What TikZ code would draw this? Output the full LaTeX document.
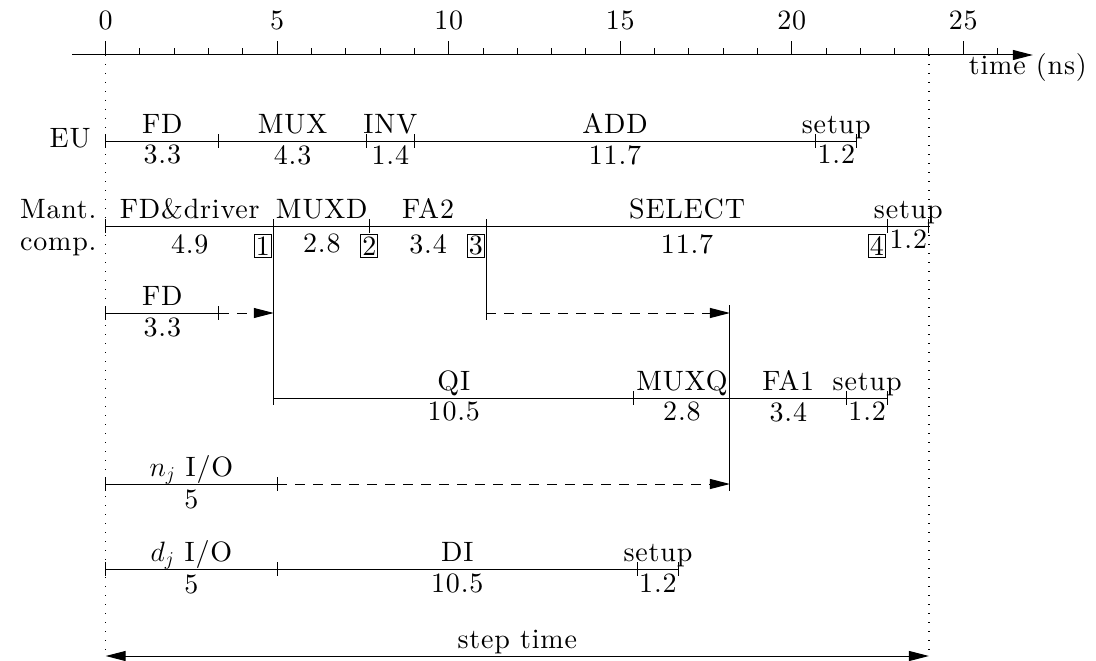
\RequirePackage{fix-cm}
\documentclass[tikz,border=0pt]{standalone}
\usepackage{fontspec}
\setmainfont{lmroman10-regular}[Extension=.otf, LetterSpace=3]
\usetikzlibrary{arrows.meta}
\newcommand\dfont{\fontsize{28}{32}\selectfont}
\newcommand\tseg[7][5]{%
  \coordinate (#2a) at (#4,#3);
  \coordinate (#2b) at (#5,#3);
  \draw[tline] (#2a) -- (#2b);
  \node[lab] (#2l) at ({(#4+#5)/2},{#3-8}) {#6};
  \node[num] (#2n) at ({(#4+#5)/2},{#3+#1}) {#7};
}
\newcommand\tk[2]{\draw[tline] (#1,{#2-7}) -- (#1,{#2+7});}
\tikzset{
  tline/.style={line width=1pt},
  lab/.style={anchor=base, inner sep=0pt, font=\dfont},
  num/.style={anchor=north, inner sep=0pt, font=\dfont},
  rowname/.style={anchor=base east, inner sep=0pt, font=\dfont},
  boxnum/.style={draw, line width=0.8pt, inner sep=0pt, minimum width=17pt, minimum height=23pt, font=\dfont, anchor=north east},
  dotline/.style={line width=1.3pt, dash pattern=on 1.3pt off 7.7pt},
  dashline/.style={line width=1pt, dash pattern=on 10pt off 8pt},
  tip/.tip={Triangle[length=20pt,width=10pt]},
}
\begin{document}
\begin{tikzpicture}[x=34.3pt,y=-1pt]
\useasboundingbox (-3.0816,0) rectangle (28.872,661);
% time axis
\coordinate (axL) at (-0.98,55);
\coordinate (axR) at (27.03,55);
\draw[line width=1pt,-tip] (axL) -- (axR);
\foreach \i in {0,...,26}{\draw[line width=1pt] (\i,55) -- (\i,48);}
\foreach \i in {0,5,...,25}{
  \draw[line width=1pt] (\i,55) -- (\i,41);
  \node[lab] (ax\i) at (\i,30) {\i};
}
\node[anchor=base east, inner sep=0pt, font=\dfont] (tlab) at (28.61,75) {time (ns)};
% dotted limits
\coordinate (d0t) at (0,55); \coordinate (d0b) at (0,656);
\coordinate (d1t) at (24,55); \coordinate (d1b) at (24,656);
\draw[dotline] (d0t) -- (d0b);
\draw[dotline] (d1t) -- (d1b);
% EU row
\node[rowname] (eu) at (-0.437,147) {EU};
\tseg[4]{e1}{141}{0}{3.3}{FD}{3.3}
\tseg[4]{e2}{141}{3.3}{7.6}{MUX}{4.3}
\tseg[4]{e3}{141}{7.6}{9.0}{INV}{1.4}
\tseg[4]{e4}{141}{9.0}{20.7}{ADD}{11.7}
\tseg[4]{e5}{141}{20.7}{21.9}{setup}{1.2}
\foreach \t in {0,3.3,7.6,9.0,20.7,21.9}{\tk{\t}{141}}
% Mantissa row
\node[rowname] (mant) at (-0.262,218) {Mant.};
\node[rowname] (comp) at (-0.262,250) {comp.};
\tseg[8]{m1}{226}{0}{4.9}{FD\&driver}{4.9}
\tseg[8]{m2}{226}{4.9}{7.7}{MUXD}{2.8}
\tseg[8]{m3}{226}{7.7}{11.1}{FA2}{3.4}
\tseg[8]{m4}{226}{11.1}{22.8}{SELECT}{11.7}
\tseg[4]{m5}{226}{22.8}{24.0}{setup}{1.2}
\foreach \t in {0,7.7,22.8,24.0}{\tk{\t}{226}}
\node[boxnum] (b1) at (4.84,234) {1};
\node[boxnum, anchor=north] (b2) at (7.685,234) {2};
\node[boxnum] (b3) at (11.05,234) {3};
\node[boxnum] (b4) at (22.74,234) {4};
% long verticals
\coordinate (v1t) at (4.9,219); \coordinate (v1b) at (4.9,405);
\coordinate (v2t) at (11.1,219); \coordinate (v2b) at (11.1,320);
\coordinate (v3t) at (18.2,305); \coordinate (v3b) at (18.2,491);
\draw[tline] (v1t) -- (v1b);
\draw[tline] (v2t) -- (v2b);
\draw[tline] (v3t) -- (v3b);
% FD row
\tseg{f1}{313}{0}{3.3}{FD}{3.3}
\tk{0}{313}\tk{3.3}{313}
\coordinate (fa) at (4.9,313);
\draw[dashline,-tip] (f1b) -- (fa);
\coordinate (sa) at (11.1,313);
\coordinate (sb) at (18.2,313);
\draw[dashline,-tip] (sa) -- (sb);
% QI row
\tseg[4]{q1}{398}{4.9}{15.4}{QI}{10.5}
\tseg[4]{q2}{398}{15.4}{18.2}{MUXQ}{2.8}
\tseg[4]{q3}{398}{18.2}{21.6}{FA1}{3.4}
\tseg[4]{q4}{398}{21.6}{22.8}{setup}{1.2}
\foreach \t in {15.4,21.6,22.8}{\tk{\t}{398}}
% n_j row
\tseg[6]{n1}{484}{0}{5}{$n_j$ I/O}{5}
\tk{0}{484}\tk{5}{484}
\coordinate (na) at (18.2,484);
\draw[dashline,-tip] (n1b) -- (na);
% d_j row
\tseg[6]{dd1}{569}{0}{5}{$d_j$ I/O}{5}
\tseg[5]{dd2}{569}{5}{15.5}{DI}{10.5}
\tseg[5]{dd3}{569}{15.5}{16.7}{setup}{1.2}
\foreach \t in {0,5,15.5,16.7}{\tk{\t}{569}}
% step time
\coordinate (stl) at (0,656); \coordinate (str) at (24,656);
\draw[line width=1pt,tip-tip] (stl) -- (str);
\node[lab] (steplab) at (12,648) {step time};
\end{tikzpicture}
\end{document}
